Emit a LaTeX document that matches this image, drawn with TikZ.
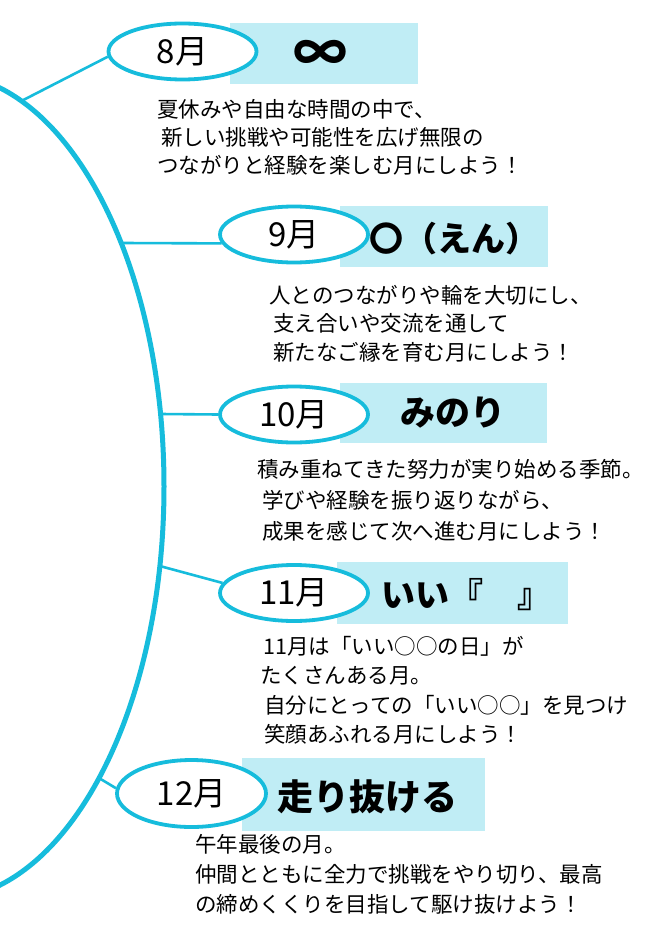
\documentclass[tikz,border=0pt]{standalone}
\usepackage{fontspec}
\usetikzlibrary{shapes.geometric}
\newfontfamily\jp{Noto Sans CJK JP}
\definecolor{CycleCyan}{HTML}{16BCDC}
\definecolor{BandCyan}{HTML}{C0EDF5}

\begin{document}
\begin{tikzpicture}[x=1pt,y=-1pt,
  monthoval/.style={ellipse,draw=CycleCyan,line width=3.8pt,fill=white,inner sep=0pt,minimum width=148pt,minimum height=56pt,font=\jp\fontsize{33}{33}\selectfont},
  themetext/.style={inner sep=0pt,font=\jp\bfseries\fontsize{#1}{#1}\selectfont},
  themetext/.default=34,
  bodytext/.style={anchor=north west,inner sep=0pt,align=left,font=\jp\fontsize{21.5}{#1}\selectfont},
  bodytext/.default=29,
  spoke/.style={draw=CycleCyan,line width=2.6pt}
]
\useasboundingbox (0,0) rectangle (660,933);
\fill[white] (0,0) rectangle (660,933);

% big arc on the left
\begin{scope}
\clip (0,0) rectangle (660,933);
\draw[CycleCyan,line width=5pt] (-58.5,486.5) ellipse [x radius=222.5,y radius=413];
\end{scope}
\coordinate (a8) at (21.4,101);
\coordinate (a9) at (121,243);
\coordinate (a10) at (160.6,414);
\coordinate (a11) at (159.8,566);
\coordinate (a12) at (99,778);

% title bands
\fill[BandCyan] (230,23) rectangle (418,84);
\fill[BandCyan] (340,206) rectangle (548,267);
\fill[BandCyan] (340,383) rectangle (547,443);
\fill[BandCyan] (337,562) rectangle (568,624);
\fill[BandCyan] (242,758) rectangle (485,831);

% months
\node[monthoval] (m8) at (182.5,51.5) {8月};
\node[monthoval] (m9) at (294,234.5) {9月};
\node[monthoval] (m10) at (294,414.5) {10月};
\node[monthoval] (m11) at (294,593) {11月};
\node[monthoval,minimum width=149pt,minimum height=67pt] (m12) at (191.5,793.5) {12月};

\draw[spoke] (a8) -- (m8.184);
\draw[spoke] (a9) -- (m9.187);
\draw[spoke] (a10) -- (m10.west);
\draw[spoke] (a11) -- (m11.172);
\draw[spoke] (a12) -- (m12.176);

% themes
\node[themetext=54] (t8) at (320,56) {∞};
\node[themetext,anchor=west] (t9) at (369,239) {〇（えん）};
\node[themetext=35] (t10) at (453,413) {みのり};
\node[themetext=34,anchor=west] (t11) at (381,595) {いい『　』};
\node[themetext=36] (t12) at (367,797) {走り抜ける};

% texts
\node[bodytext=28] (d8) at (157,99) {夏休みや自由な時間の中で、\\\hspace{4pt}新しい挑戦や可能性を広げ無限の\\つながりと経験を楽しむ月にしよう！};
\node[bodytext=28.5] (d9) at (269,285) {人とのつながりや輪を大切にし、\\\hspace{4pt}支え合いや交流を通して\\\hspace{4pt}新たなご縁を育む月にしよう！};
\node[bodytext=31] (d10) at (257,459) {積み重ねてきた努力が実り始める季節。\\\hspace{5pt}学びや経験を振り返りながら、\\\hspace{5pt}成果を感じて次へ進む月にしよう！};
\node[bodytext=29.5] (d11) at (260,636) {\hspace{3pt}11月は「いい○○の日」が\\たくさんある月。\\\hspace{4pt}自分にとっての「いい○○」を見つけ\\\hspace{4pt}笑顔あふれる月にしよう！};
\node[bodytext=30] (d12) at (195,834) {午年最後の月。\\仲間とともに全力で挑戦をやり切り、最高\\の締めくくりを目指して駆け抜けよう！};
\end{tikzpicture}
\end{document}
